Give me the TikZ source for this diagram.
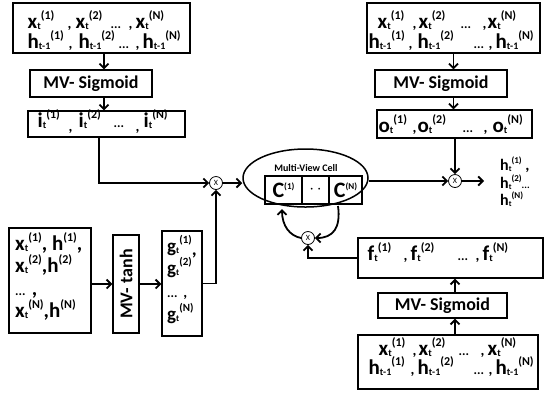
\documentclass[tikz,border=0pt]{standalone}
\usepackage{fontspec}
\setmainfont{Carlito}
\usetikzlibrary{arrows.meta,shapes.geometric}

% variable with subscript and superscript placed one after the other
\newcommand{\Vr}[3]{#1\raisebox{-1pt}{\fontsize{10}{10}\selectfont #2}\raisebox{9pt}{\fontsize{12}{12}\selectfont #3}}
% variable with superscript only
\newcommand{\Vs}[2]{#1\raisebox{9pt}{\fontsize{12}{12}\selectfont #2}}
% smaller variants
\newcommand{\Vg}[3]{#1\raisebox{-1pt}{\fontsize{9}{9}\selectfont #2}\raisebox{9pt}{\fontsize{11}{11}\selectfont #3}}
\newcommand{\Vh}[3]{#1\raisebox{-1pt}{\fontsize{8}{8}\selectfont #2}\raisebox{7pt}{\fontsize{9}{9}\selectfont #3}}
\newcommand{\cm}{{\fontsize{15}{15}\selectfont ,}}
\newcommand{\dd}{{\fontsize{13}{13}\selectfont ...}}
% piece placed at a fixed offset from the start of its row
\newcommand{\pc}[2]{\rlap{\hspace{#1pt}#2}}
% a row of three terms: offsets of comma, term, dots, comma, term
\newcommand{\trio}[9]{\pc{0}{#1}\pc{#2}{#9}\pc{#3}{#4}\pc{#5}{\dd}\pc{#6}{#9}\pc{#7}{#8}}

\begin{document}
\begin{tikzpicture}[x=1pt,y=-1pt,
  box/.style={draw, line width=1.4pt, inner sep=0pt},
  row/.style={inner sep=0pt, anchor=base west, font=\fontsize{21}{22}\selectfont\bfseries},
  label/.style={font=\fontsize{18}{20}\selectfont\bfseries},
  mult/.style={circle, draw, line width=0.8pt, minimum size=13pt, inner sep=0pt,
               font=\fontsize{8}{8}\selectfont},
  arr/.style={line width=1.8pt, -{Straight Barb[length=4.5pt,width=9pt]}}]
\useasboundingbox (0,0) rectangle (545,392);

% ---------- input gate ----------
\node[box, minimum width=177pt, minimum height=50pt] (inTL) at (101.5,28) {};
\node[row] (tl1) at (27,28) {\trio{\Vr{x}{t}{(1)}}{40}{48}{\Vr{x}{t}{(2)}}{83}{101}{108}{\Vr{x}{t}{(N)}}{\cm}};
\node[row] (tl2) at (27,48) {\trio{\Vr{h}{t-1}{(1)}}{41}{51}{\Vr{h}{t-1}{(2)}}{91}{108}{115}{\Vr{h}{t-1}{(N)}}{\cm}};
\node[box, minimum width=122pt, minimum height=27pt, label] (sigTL) at (91,83.5) {MV- Sigmoid};
\node[box, minimum width=157pt, minimum height=26pt] (iBox) at (106.5,124) {};
\node[row] (irow) at (37,127) {\trio{\Vr{i}{t}{(1)}}{31}{41}{\Vr{i}{t}{(2)}}{76}{98}{106}{\Vr{i}{t}{(N)}}{\raisebox{-4pt}{\cm}}};

% ---------- output gate ----------
\node[box, minimum width=173pt, minimum height=50pt] (inTR) at (453.5,28) {};
\node[row] (tr1) at (377,28) {\trio{\Vr{x}{t}{(1)}}{35}{41}{\Vr{x}{t}{(2)}}{83}{105}{110}{\Vr{x}{t}{(N)}}{\cm}};
\node[row] (tr2) at (368,48) {\trio{\Vr{h}{t-1}{(1)}}{40}{49}{\Vr{h}{t-1}{(2)}}{105}{120}{127}{\Vr{h}{t-1}{(N)}}{\cm}};
\node[box, minimum width=132pt, minimum height=27pt, label] (sigTR) at (441,83.5) {MV- Sigmoid};
\node[box, minimum width=155pt, minimum height=28pt] (oBox) at (454.5,124) {};
\node[row] (orow) at (378,132) {\trio{\Vr{o}{t}{(1)}}{34}{39}{\Vr{o}{t}{(2)}}{84}{105}{114}{\Vr{o}{t}{(N)}}{\cm}};

% ---------- candidate values ----------
\node[box, minimum width=82pt, minimum height=105pt] (inBL) at (50,280.5) {};
\node[row] (bl1) at (15,250) {\Vr{x}{t}{(1)}, \Vs{h}{(1)},};
\node[row] (bl2) at (15,272) {\Vr{x}{t}{(2)},\Vs{h}{(2)}};
\node[row] (bl3) at (15,295) {\dd{} ,};
\node[row] (bl4) at (15,317) {\Vr{x}{t}{(N)},\Vs{h}{(N)}};
\node[box, minimum width=26pt, minimum height=98pt] (tanh) at (126,284) {};
\node[label, rotate=90] (tanhlbl) at (126,284) {MV- tanh};
\node[box, minimum width=40pt, minimum height=105pt] (gBox) at (182,283.5) {};
\node[row, font=\fontsize{19}{20}\selectfont\bfseries] (g1) at (167,252) {\Vg{g}{t}{(1)}\raisebox{-3pt}{,}};
\node[row, font=\fontsize{19}{20}\selectfont\bfseries] (g2) at (167,274) {\Vg{g}{t}{(2)}};
\node[row, font=\fontsize{19}{20}\selectfont\bfseries] (g3) at (167,297) {\dd{} \cm};
\node[row, font=\fontsize{19}{20}\selectfont\bfseries] (g4) at (167,320) {\Vg{g}{t}{(N)}};

% ---------- forget gate ----------
\node[box, minimum width=185pt, minimum height=40pt] (fBox) at (450.5,258) {};
\node[row] (frow) at (367,260) {\trio{\Vr{f}{t}{(1)}}{36}{43}{\Vr{f}{t}{(2)}}{90}{108}{115}{\Vr{f}{t}{(N)}}{\cm}};
\node[box, minimum width=129pt, minimum height=25pt, label] (sigBR) at (442.5,305.5) {MV- Sigmoid};
\node[box, minimum width=180pt, minimum height=54pt] (inBR) at (448,362) {};
\node[row] (br1) at (378,355) {\trio{\Vr{x}{t}{(1)}}{34}{40}{\Vr{x}{t}{(2)}}{80}{102}{109}{\Vr{x}{t}{(N)}}{\cm}};
\node[row] (br2) at (368,374) {\trio{\Vr{h}{t-1}{(1)}}{42}{49}{\Vr{h}{t-1}{(2)}}{105}{120}{127}{\Vr{h}{t-1}{(N)}}{\cm}};

% ---------- multi-view cell ----------
\node[ellipse, draw, line width=1.5pt, minimum width=125pt, minimum height=58pt, inner sep=0pt] (cell) at (305.5,178) {};
\node[font=\fontsize{10}{10}\selectfont\bfseries, inner sep=0pt] (celllbl) at (306,168) {Multi-View Cell};
\node[box, minimum width=37pt, minimum height=28pt, font=\fontsize{22}{22}\selectfont\bfseries] (c1) at (283.5,190) {C\raisebox{8pt}{\fontsize{9}{9}\selectfont(1)}};
\node[box, minimum width=27pt, minimum height=28pt, font=\fontsize{16}{16}\selectfont\bfseries] (c2) at (315.5,190) {$\cdot$\,$\cdot$};
\node[box, minimum width=33pt, minimum height=28pt, font=\fontsize{22}{22}\selectfont\bfseries] (c3) at (345.5,190) {C\raisebox{8pt}{\fontsize{9}{9}\selectfont(N)}};

% ---------- multiplications ----------
\node[mult] (xL) at (216,183) {X};
\node[mult] (xR) at (455,181) {X};
\node[mult] (xB) at (308,238) {X};

% ---------- hidden state outputs ----------
\node[row, font=\fontsize{16}{16}\selectfont\bfseries] (h1) at (500,170) {\Vh{h}{t}{(1)} ,};
\node[row, font=\fontsize{16}{16}\selectfont\bfseries] (h2) at (500,188) {\Vh{h}{t}{(2)}{\fontsize{10}{10}\selectfont ...}};
\node[row, font=\fontsize{16}{16}\selectfont\bfseries] (h3) at (500,205) {\Vh{h}{t}{(N)}};
\coordinate (hout) at (484,181);

% ---------- connectors ----------
\draw[arr] ([xshift=2.5pt]inTL.south) -- ([xshift=2.5pt]inTL.south |- sigTL.north);
\draw[arr] ([xshift=2.5pt]inTL.south |- sigTL.south) -- ([xshift=2.5pt]inTL.south |- iBox.north);
\draw[arr] ([xshift=-7.5pt]iBox.south) |- (xL.west);
\draw[arr] (inBL.east |- tanh.west) -- (tanh.west);
\draw[arr] (tanh.east) -- (gBox.west |- tanh.east);
\draw[arr] (gBox.east) -| (xL.south);
\draw[arr] (xL.east) -- (xL.east -| cell.west);

\draw[arr] (inTR.south) -- (inTR.south |- sigTR.north);
\draw[arr] (inTR.south |- sigTR.south) -- (inTR.south |- oBox.north);
\draw[arr] (oBox.south -| xR.north) -- (xR.north);
\draw[arr] (xR.west -| cell.east) -- (xR.west);
\draw[arr] (xR.east) -- (hout);

\draw[arr] ([xshift=7pt]inBR.north) -- ([xshift=7pt]inBR.north |- sigBR.south);
\draw[arr] ([xshift=7pt]inBR.north |- sigBR.north) -- ([xshift=7pt]inBR.north |- fBox.south);
\draw[arr] (fBox.west) -| (xB.south);

% cell state recurrence through the forget multiplication
\coordinate (cOut) at (338,206);
\coordinate (cIn) at (282,209);
\draw[arr] (cOut) .. controls (341,228) and (333,238) .. (xB.east);
\draw[arr] (xB.west) .. controls (290,236) and (282,226) .. (cIn);
\end{tikzpicture}
\end{document}
